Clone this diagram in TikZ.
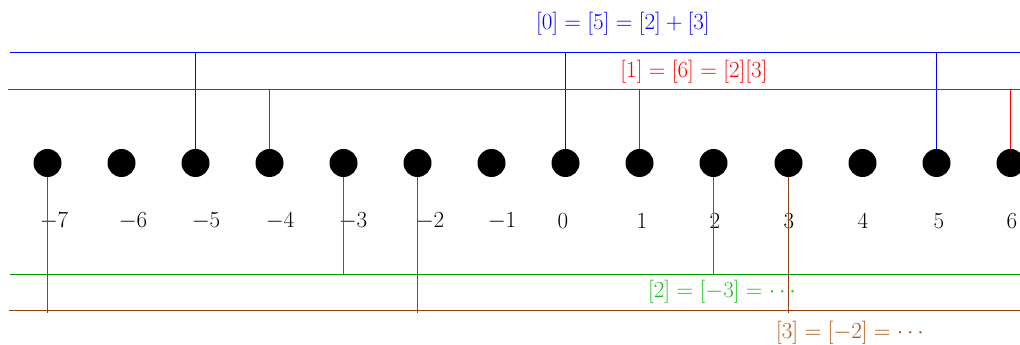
\documentclass[tikz,border=0pt]{standalone}
\usetikzlibrary{calc}
\definecolor{gline}{rgb}{0,0.6,0}
\definecolor{gtext}{rgb}{0.1,0.75,0.1}
\definecolor{bline}{rgb}{0.55,0.27,0.07}
\definecolor{btext}{rgb}{0.7,0.33,0.07}
\definecolor{rline}{rgb}{1,0,0}
\definecolor{uline}{rgb}{0,0,1}
\tikzset{
  dotnode/.style={circle,fill=black,inner sep=0pt,minimum size=28*0.75pt},
  numlabel/.style={inner sep=0pt,font=\fontsize{16}{19}\selectfont},
  eqlabel/.style={inner sep=0pt,font=\fontsize{16}{19}\selectfont},
  conn/.style={line width=0.8pt},
}
\begin{document}
\begin{tikzpicture}[x=0.75pt,y=-0.75pt]
\useasboundingbox (0,0) rectangle (1020,345);
% horizontal class lines
\coordinate (bl0) at (10,52.5);   \coordinate (bl1) at (1020,52.5);
\coordinate (rl0) at (8,89.5);    \coordinate (rl1) at (1020,89.5);
\coordinate (gl0) at (10,274.5);  \coordinate (gl1) at (1020,274.5);
\coordinate (hl0) at (9,310.5);   \coordinate (hl1) at (1020,310.5);
% dots
\node[dotnode] (dm7) at (47.5,163) {};
\node[dotnode] (dm6) at (121.5,163) {};
\node[dotnode] (dm5) at (195.5,163) {};
\node[dotnode] (dm4) at (269.5,163) {};
\node[dotnode] (dm3) at (343.5,163) {};
\node[dotnode] (dm2) at (417.5,163) {};
\node[dotnode] (dm1) at (491.5,163) {};
\node[dotnode] (d0) at (565.5,163) {};
\node[dotnode] (d1) at (639.5,163) {};
\node[dotnode] (d2) at (713.5,163) {};
\node[dotnode] (d3) at (788.5,163) {};
\node[dotnode] (d4) at (862.5,163) {};
\node[dotnode] (d5) at (936.5,163) {};
\begin{scope}
\clip (0,0) rectangle (1020,345);
\node[dotnode] (d6) at (1010.5,163) {};
\end{scope}
% number labels
\node[numlabel] (lm7) at (54,221) {$-7$};
\node[numlabel] (lm6) at (133,221) {$-6$};
\node[numlabel] (lm5) at (206,221) {$-5$};
\node[numlabel] (lm4) at (280,221) {$-4$};
\node[numlabel] (lm3) at (353,221) {$-3$};
\node[numlabel] (lm2) at (430,221) {$-2$};
\node[numlabel] (lm1) at (502,221) {$-1$};
\node[numlabel] (l0) at (563,221) {$0$};
\node[numlabel] (l1) at (642,221) {$1$};
\node[numlabel] (l2) at (715,221) {$2$};
\node[numlabel] (l3) at (789,221) {$3$};
\node[numlabel] (l4) at (863,221) {$4$};
\node[numlabel] (l5) at (939,221) {$5$};
\node[numlabel] (l6) at (1012,221) {$6$};
% blue class
\begin{scope}[color=uline]
\draw[conn] (bl0) -- (bl1);
\draw[conn] (dm5.north) -- (dm5 |- bl0);
\draw[conn] (d0.north) -- (d0 |- bl0);
\draw[conn] (d5.north) -- (d5 |- bl0);
\end{scope}
% red class
\begin{scope}[color=rline]
\draw[conn] (rl0) -- (rl1);
\draw[conn] (dm4.north) -- (dm4 |- rl0);
\draw[conn] (d1.north) -- (d1 |- rl0);
\draw[conn] (d6.north) -- (d6 |- rl0);
\end{scope}
% green class
\begin{scope}[color=gline]
\draw[conn] (gl0) -- (gl1);
\draw[conn] (dm3.south) -- (dm3 |- gl0);
\draw[conn] (d2.south) -- (d2 |- gl0);
\end{scope}
% brown class
\begin{scope}[color=bline]
\draw[conn] (hl0) -- (hl1);
\draw[conn] (dm7.south) -- ($(dm7 |- hl0)+(0,2)$);
\draw[conn] (dm2.south) -- ($(dm2 |- hl0)+(0,2)$);
\draw[conn] (d3.south) -- ($(d3 |- hl0)+(0,2)$);
\end{scope}
% class labels
\node[eqlabel,text=blue] (eq0) at (623,24) {$[0]=[5]=[2]+[3]$};
\node[eqlabel,text=red] (eq1) at (694,72) {$[1]=[6]=[2][3]$};
\node[eqlabel,text=gtext] (eq2) at (722,292) {$[2]=[-3]=\cdots$};
\node[eqlabel,text=btext] (eq3) at (850,333) {$[3]=[-2]=\cdots$};
\end{tikzpicture}
\end{document}
